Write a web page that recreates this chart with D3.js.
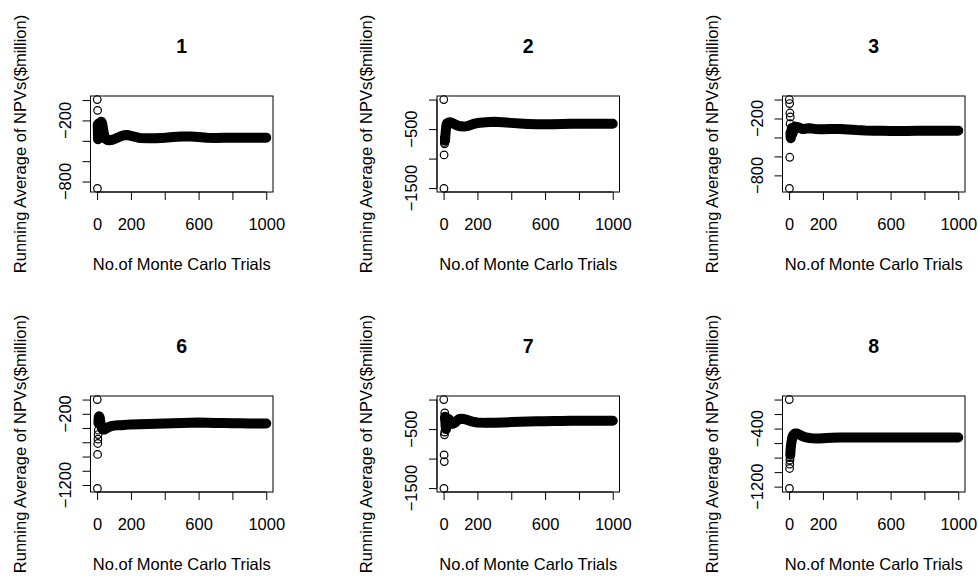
<!DOCTYPE html>
<html>
<head>
<meta charset="utf-8">
<script src="https://cdn.jsdelivr.net/npm/d3@7"></script>
<style>
  html, body { margin: 0; padding: 0; background: #fff; }
  svg { display: block; }
  text { font-family: "Liberation Sans", Arial, Helvetica, sans-serif; fill: #000; }
</style>
</head>
<body>
<svg id="chart" width="978" height="578"></svg>
<script>
// Trial numbers at which the running average was recorded
const trials = [1,2,3,4,5,6,7,8,9,10,12,14,16,18,20,25,30,35,40,45,50,60,70,80,90,100,
  120,140,160,180,200,250,300,350,400,450,500,550,600,650,700,750,800,850,900,950,1000];

// Running average of NPVs ($million) per scenario, one value per trial above
const npv1 = [5,-868,-101,-240,-330,-385,-300,-260,-230,-280,-330,-370,-300,-250,-225,-212,-230,-280,-330,-360,-380,
  -392,-395,-393,-390,-385,-370,-355,-345,-343,-352,-372,-376,-375,-370,-363,-359,-358,-363,-370,-372,-371,-370,-369,-369,-369,-369];
const npv2 = [0,-1506,-938,-727,-670,-750,-700,-640,-690,-620,-560,-500,-450,-420,-405,-395,-388,-385,-386,-390,-396,
  -410,-425,-438,-447,-453,-456,-450,-430,-410,-398,-385,-378,-385,-395,-405,-414,-420,-420,-417,-414,-412,-410,-410,-409,-409,-409];
const npv3 = [0,-938,-42,-609,-142,-255,-184,-350,-400,-407,-380,-330,-300,-320,-360,-330,-300,-285,-290,-300,-290,
  -295,-305,-312,-310,-306,-303,-307,-312,-314,-313,-312,-310,-316,-322,-326,-328,-330,-331,-331,-331,-330,-330,-329,-329,-328,-328];
const npv6 = [0,-1248,-771,-617,-556,-491,-430,-330,-270,-243,-235,-245,-260,-290,-330,-380,-410,-420,-422,-420,-412,
  -398,-385,-376,-370,-366,-362,-360,-356,-352,-350,-346,-343,-338,-335,-333,-330,-325,-322,-325,-328,-330,-332,-334,-335,-336,-336];
const npv7 = [0,-1506,-938,-1051,-597,-551,-227,-330,-290,-360,-450,-500,-480,-440,-400,-350,-330,-350,-380,-400,-410,
  -405,-385,-355,-335,-325,-330,-345,-365,-380,-388,-395,-393,-388,-382,-376,-371,-368,-366,-364,-362,-361,-360,-359,-358,-358,-358];
const npv8 = [0,-1225,-950,-890,-835,-800,-760,-720,-690,-660,-620,-590,-560,-530,-510,-490,-475,-468,-467,-468,-472,
  -482,-495,-506,-515,-522,-530,-535,-537,-536,-532,-527,-524,-523,-522,-522,-522,-522,-522,-522,-522,-522,-522,-522,-522,-522,-522];

const panelTitles = ["1", "2", "3", "6", "7", "8"];
const panelSeries = [npv1, npv2, npv3, npv6, npv7, npv8];
// First trial of each series where the running average settles into a continuous band
const bandStart = [4, 8, 8, 8, 8, 7];

// Axis ticks and the tick labels that are printed
const xTicks = [0, 200, 400, 600, 800, 1000];
const xTickLabels = [0, 200, 600, 1000];
const yTicks = [
  [0, -200, -400, -600, -800],
  [0, -500, -1000, -1500],
  [0, -200, -400, -600, -800],
  [0, -200, -400, -600, -800, -1000, -1200],
  [0, -500, -1000, -1500],
  [0, -200, -400, -600, -800, -1000, -1200]
];
const yTickLabels = [
  [-200, -800],
  [-500, -1500],
  [-200, -800],
  [-200, -1200],
  [-500, -1500],
  [-400, -1200]
];

const xLabel = "No.of Monte Carlo Trials";
const yLabel = "Running Average of NPVs($million)";

// Plot-region layout: 2 rows x 3 columns
const colLeft = [90.5, 437, 782.5];
const rowTop = [96, 396];
const boxW = 182.5, boxH = 96;
const tickLen = 8;
const axisFont = 16.5, titleFont = 19.5;
const ringR = 3.8, bandWidth = 10;

const svg = d3.select("#chart");

// Extend a [min, max] range by 4% at each end
function padded(lo, hi) {
  const p = (hi - lo) * 0.04;
  return [lo - p, hi + p];
}

panelSeries.forEach((vals, i) => {
  const left = colLeft[i % 3], top = rowTop[Math.floor(i / 3)];
  const right = left + boxW, bottom = top + boxH;

  const x = d3.scaleLinear()
    .domain(padded(d3.min(trials), d3.max(trials)))
    .range([left, right]);
  const y = d3.scaleLinear()
    .domain(padded(d3.min(vals), d3.max(vals)))
    .range([bottom, top]);

  const g = svg.append("g");
  const pts = trials.map((t, k) => ({ t, v: vals[k] }));

  // continuous band of overlapping points
  const band = pts.filter(d => d.t >= bandStart[i]);
  g.append("path")
    .datum(band)
    .attr("d", d3.line().x(d => x(d.t)).y(d => y(d.v)))
    .attr("fill", "none")
    .attr("stroke", "#000")
    .attr("stroke-width", bandWidth)
    .attr("stroke-linejoin", "round")
    .attr("stroke-linecap", "round");

  // open-circle markers
  g.selectAll("circle")
    .data(pts)
    .join("circle")
    .attr("cx", d => x(d.t))
    .attr("cy", d => y(d.v))
    .attr("r", ringR)
    .attr("fill", "none")
    .attr("stroke", "#000")
    .attr("stroke-width", 1.2);

  // frame
  g.append("rect")
    .attr("x", left).attr("y", top)
    .attr("width", boxW).attr("height", boxH)
    .attr("fill", "none")
    .attr("stroke", "#000")
    .attr("stroke-width", 1);

  // x axis
  const xAxis = d3.axisBottom(x)
    .tickValues(xTicks)
    .tickSize(tickLen)
    .tickFormat(d => xTickLabels.includes(d) ? d : "");
  const gx = g.append("g")
    .attr("transform", `translate(0,${bottom})`)
    .call(xAxis);
  gx.select(".domain").remove();
  gx.append("line")
    .attr("x1", x(xTicks[0])).attr("x2", x(xTicks[xTicks.length - 1]))
    .attr("stroke", "#000");
  gx.selectAll(".tick line").attr("stroke", "#000");
  gx.selectAll(".tick text")
    .attr("y", 38)
    .attr("dy", 0)
    .attr("fill", "#000")
    .style("font-size", axisFont + "px")
    .style("font-family", '"Liberation Sans", Arial, Helvetica, sans-serif');

  // y axis
  const yAxis = d3.axisLeft(y)
    .tickValues(yTicks[i])
    .tickSize(tickLen)
    .tickFormat("");
  const gy = g.append("g")
    .attr("transform", `translate(${left},0)`)
    .call(yAxis);
  gy.select(".domain").remove();
  const yt = yTicks[i];
  gy.append("line")
    .attr("y1", y(d3.max(yt))).attr("y2", y(d3.min(yt)))
    .attr("stroke", "#000");
  gy.selectAll(".tick line").attr("stroke", "#000");

  // y tick labels, written parallel to the axis
  g.selectAll("text.ylab")
    .data(yTickLabels[i])
    .join("text")
    .attr("class", "ylab")
    .attr("transform", d => `translate(${left - 20},${y(d)}) rotate(-90)`)
    .attr("text-anchor", "middle")
    .style("font-size", axisFont + "px")
    .text(d => "\u2212" + Math.abs(d));

  // panel title
  g.append("text")
    .attr("x", (left + right) / 2)
    .attr("y", top - 43)
    .attr("text-anchor", "middle")
    .style("font-size", titleFont + "px")
    .style("font-weight", "bold")
    .text(panelTitles[i]);

  // axis titles
  g.append("text")
    .attr("x", (left + right) / 2)
    .attr("y", bottom + 78)
    .attr("text-anchor", "middle")
    .style("font-size", axisFont + "px")
    .text(xLabel);
  g.append("text")
    .attr("transform", `translate(${left - 65},${(top + bottom) / 2}) rotate(-90)`)
    .attr("text-anchor", "middle")
    .style("font-size", axisFont + "px")
    .text(yLabel);
});
</script>
</body>
</html>
